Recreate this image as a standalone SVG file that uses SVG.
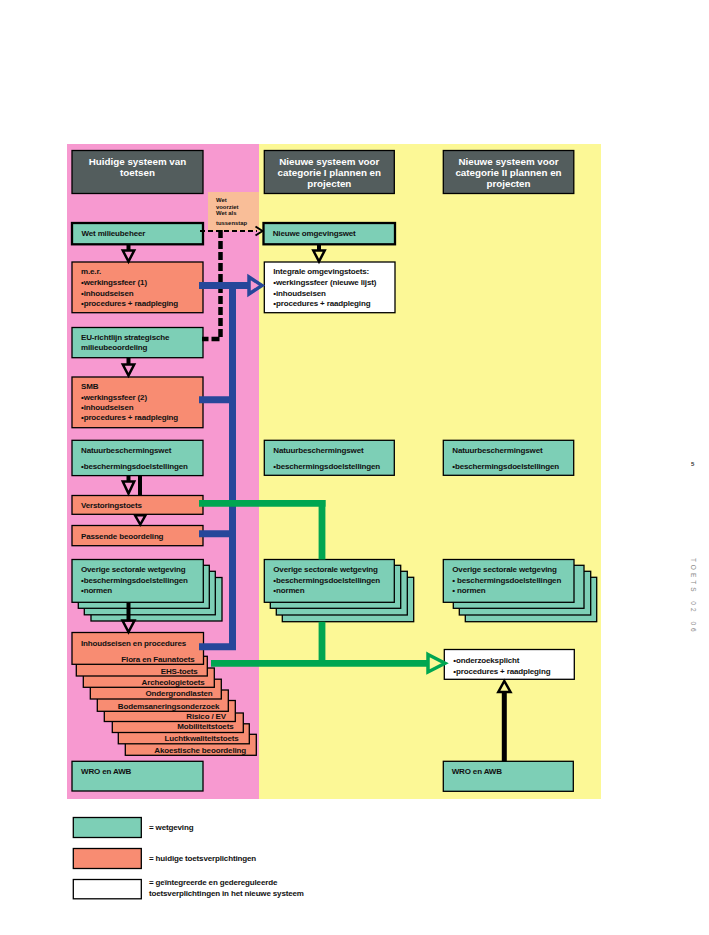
<svg xmlns="http://www.w3.org/2000/svg" width="709" height="935" viewBox="0 0 709 935">
<style>
.t{font-family:"Liberation Sans",Arial,sans-serif;font-size:8px;font-weight:bold;letter-spacing:-0.15px;fill:#111}
.r{text-anchor:end}
.h{font-family:"Liberation Sans",Arial,sans-serif;font-size:9.8px;font-weight:bold;fill:#fff;text-anchor:middle}
.s{font-family:"Liberation Sans",Arial,sans-serif;font-size:5.9px;font-weight:bold;fill:#111}
.teal{fill:#7DCFB6;stroke:#000;stroke-width:1.3}
.sal{fill:#F88C72;stroke:#000;stroke-width:1.3}
.wht{fill:#fff;stroke:#000;stroke-width:1.3}
.hdr{fill:#535D5D;stroke:#000;stroke-width:1.3}
.thk{stroke-width:2.3}
.ln{fill:none;stroke:#000;stroke-width:4}
.tri{fill:none;stroke:#000;stroke-width:2.5;stroke-linejoin:miter}
</style>
<rect width="709" height="935" fill="#fff"/>
<g id="panels">
<rect x="67" y="144" width="192" height="655" fill="#F799D0"/>
<rect x="259" y="144" width="342" height="655" fill="#FCF896"/>
<rect x="208" y="192" width="51" height="39" fill="#F9BE98"/>
</g>
<g id="peach-note">
<text class="s" x="216" y="202">Wet</text>
<text class="s" x="216" y="208.5">voorziet</text>
<text class="s" x="216" y="215">Wet als</text>
<text class="s" x="216" y="224.5">tussenstap</text>
</g>
<g id="hdr1"><rect class="hdr" x="72" y="150.5" width="131" height="43"/>
<text class="h" x="137.5" y="165.3">Huidige systeem van</text><text class="h" x="137.5" y="176.2">toetsen</text></g>
<g id="hdr2"><rect class="hdr" x="264.3" y="150.5" width="130" height="43"/>
<text class="h" x="329.3" y="165.3">Nieuwe systeem voor</text><text class="h" x="329.3" y="176.3">categorie I plannen en</text><text class="h" x="329.3" y="187.3">projecten</text></g>
<g id="hdr3"><rect class="hdr" x="443.3" y="150.5" width="130.5" height="43"/>
<text class="h" x="508.5" y="165.3">Nieuwe systeem voor</text><text class="h" x="508.5" y="176.3">categorie II plannen en</text><text class="h" x="508.5" y="187.3">projecten</text></g>

<g id="wm"><rect class="teal thk" x="72" y="223" width="131" height="21.3"/><text class="t" x="81.5" y="236.3">Wet milieubeheer</text></g>
<g id="now"><rect class="teal thk" x="263.5" y="223" width="131.5" height="21.3"/><text class="t" x="272.7" y="236.3">Nieuwe omgevingswet</text></g>

<g id="mer"><rect class="sal" x="72" y="262" width="131" height="50.7"/>
<text class="t" x="81" y="273.5">m.e.r.</text><text class="t" x="81" y="285.3">•werkingssfeer (1)</text><text class="t" x="81" y="296">•inhoudseisen</text><text class="t" x="81" y="306.2">•procedures + raadpleging</text></g>
<g id="integraal"><rect class="wht" x="264.3" y="262" width="130.7" height="50.7"/>
<text class="t" x="273.3" y="274">Integrale omgevingstoets:</text><text class="t" x="273.3" y="285.3">•werkingssfeer (nieuwe lijst)</text><text class="t" x="273.3" y="296">•inhoudseisen</text><text class="t" x="273.3" y="306.2">•procedures + raadpleging</text></g>

<g id="eu"><rect class="teal" x="72" y="327.5" width="131" height="30.2"/>
<text class="t" x="81" y="340.3">EU-richtlijn strategische</text><text class="t" x="81" y="350.3">milieubeoordeling</text></g>
<g id="smb"><rect class="sal" x="72" y="377" width="131" height="50.7"/>
<text class="t" x="81" y="388.7">SMB</text><text class="t" x="81" y="399.5">•werkingssfeer (2)</text><text class="t" x="81" y="410">•inhoudseisen</text><text class="t" x="81" y="420.2">•procedures + raadpleging</text></g>

<g id="nbw1"><rect class="teal" x="72" y="440.3" width="131" height="35.3"/>
<text class="t" x="81" y="453">Natuurbeschermingswet</text><text class="t" x="81" y="469.3">•beschermingsdoelstellingen</text></g>
<g id="nbw2"><rect class="teal" x="264.3" y="440.3" width="130" height="35"/>
<text class="t" x="273.3" y="453">Natuurbeschermingswet</text><text class="t" x="273.3" y="469">•beschermingsdoelstellingen</text></g>
<g id="nbw3"><rect class="teal" x="443.3" y="440.3" width="130.4" height="35"/>
<text class="t" x="452.3" y="453">Natuurbeschermingswet</text><text class="t" x="452.3" y="469">•beschermingsdoelstellingen</text></g>

<g id="verstoring"><rect class="sal" x="72" y="495.5" width="131" height="18.8"/><text class="t" x="81" y="508">Verstoringstoets</text></g>
<g id="passende"><rect class="sal" x="72" y="525.5" width="131" height="20.2"/><text class="t" x="81" y="538.5">Passende beoordeling</text></g>

<g id="overige1">
<rect class="teal" x="91" y="577.5" width="131" height="43.5"/>
<rect class="teal" x="84.3" y="571.3" width="131" height="43.5"/>
<rect class="teal" x="78.3" y="565.3" width="131" height="43"/>
<rect class="teal" x="72" y="559.5" width="131.3" height="42.8"/>
<text class="t" x="81" y="572">Overige sectorale wetgeving</text><text class="t" x="81" y="582.8">•beschermingsdoelstellingen</text><text class="t" x="81" y="593.3">•normen</text></g>
<g id="overige2">
<rect class="teal" x="282.3" y="577.3" width="131.4" height="44.4"/>
<rect class="teal" x="276.3" y="571.3" width="131" height="43.7"/>
<rect class="teal" x="270.3" y="565.3" width="130.4" height="43"/>
<rect class="teal" x="264.3" y="559.5" width="130" height="42.8"/>
<text class="t" x="273.3" y="572">Overige sectorale wetgeving</text><text class="t" x="273.3" y="582.8">•beschermingsdoelstellingen</text><text class="t" x="273.3" y="593.3">•normen</text></g>
<g id="overige3">
<rect class="teal" x="465.3" y="577.3" width="131.4" height="44.4"/>
<rect class="teal" x="459.3" y="571.3" width="131.4" height="43.7"/>
<rect class="teal" x="453.3" y="565.3" width="130.7" height="43"/>
<rect class="teal" x="443.3" y="559.5" width="130.7" height="42.8"/>
<text class="t" x="452.3" y="572">Overige sectorale wetgeving</text><text class="t" x="452.3" y="582.8">• beschermingsdoelstellingen</text><text class="t" x="452.3" y="593.3">• normen</text></g>

<g id="toetsen">
<rect class="sal" x="125.3" y="734.3" width="131" height="21"/><text class="t r" x="246" y="752.5">Akoestische beoordeling</text>
<rect class="sal" x="118.3" y="723.8" width="131" height="20"/><text class="t r" x="238.5" y="741">Luchtkwaliteitstoets</text>
<rect class="sal" x="112.3" y="713" width="131" height="19.5"/><text class="t r" x="233.5" y="729.3">Mobiliteitstoets</text>
<rect class="sal" x="104.3" y="700.5" width="131" height="21"/><text class="t r" x="226" y="718.6">Risico / EV</text>
<rect class="sal" x="97.3" y="690" width="131" height="21.3"/><text class="t r" x="219.3" y="708.5">Bodemsaneringsonderzoek</text>
<rect class="sal" x="90.3" y="679.2" width="131" height="19.8"/><text class="t r" x="212.5" y="696.2">Ondergrondlasten</text>
<rect class="sal" x="83.3" y="668" width="131" height="19.3"/><text class="t r" x="204.5" y="684.8">Archeologietoets</text>
<rect class="sal" x="76.3" y="656.3" width="131" height="19.7"/><text class="t r" x="197.7" y="673.5">EHS-toets</text>
<rect class="sal" x="72" y="632.5" width="131.5" height="31.8"/>
<text class="t" x="81" y="646.3">Inhoudseisen en procedures</text><text class="t r" x="194.5" y="662">Flora en Faunatoets</text>
</g>

<g id="onderzoek"><rect class="wht" x="444.3" y="649.5" width="130" height="29.8"/>
<text class="t" x="453.3" y="662.5">•onderzoeksplicht</text><text class="t" x="453.3" y="673.5">•procedures + raadpleging</text></g>

<g id="wro1"><rect class="teal" x="72" y="761.3" width="131" height="29.7"/><text class="t" x="81" y="773.7">WRO en AWB</text></g>
<g id="wro2"><rect class="teal" x="443.3" y="761.3" width="130" height="30"/><text class="t" x="451.7" y="774">WRO en AWB</text></g>

<g id="connectors">
<path d="M200 231 H257" fill="none" stroke="#000" stroke-width="2" stroke-dasharray="5 3"/>
<path d="M255.5 226.5 L262.5 231 L255.5 235.5" fill="none" stroke="#000" stroke-width="2"/>
<path d="M220.5 230 V339 H202" fill="none" stroke="#000" stroke-width="4.5" stroke-dasharray="8 3"/>
<path class="ln" d="M128.5 244.3 V250.5"/><path class="tri" d="M122.8 250.5 H134.2 L128.5 261.5 Z"/>
<path class="ln" d="M319 244.3 V250.5"/><path class="tri" d="M313.3 250.5 H324.7 L319 261.5 Z"/>
<path class="ln" d="M128.5 357.7 V364.5"/><path class="tri" d="M122.8 364.5 H134.2 L128.5 375.5 Z"/>
<path class="ln" d="M128.5 475.7 V481.5"/><path class="tri" d="M122.8 481.5 H134.2 L128.5 493.5 Z"/>
<path class="ln" d="M140 475.7 V495.5"/><path class="tri" d="M135 515.3 H145.5 L140.3 524.5 Z"/>
<path class="ln" d="M128.5 602.3 V620.5"/><path class="tri" d="M122.5 620.5 H134.5 L128.5 632 Z"/>
<path d="M504.3 761.3 V692" fill="none" stroke="#000" stroke-width="5"/><path class="tri" d="M498.3 692 H510.5 L504.3 681 Z"/>
<path d="M199 285.5 H248.5 M232.5 282 V650 M199 399.7 H232.5 M199 533.7 H232.5 M199 646.7 H236" fill="none" stroke="#27479A" stroke-width="7"/>
<path d="M249 277 L262 285.5 L249 294 Z" fill="none" stroke="#27479A" stroke-width="3.5"/>
<path d="M199 503.3 H325.7 M322 500 V559.5 M322 621.7 V666.7 M211 663.3 H428" fill="none" stroke="#00A651" stroke-width="6.8"/>
<path d="M428 654.5 L445 663.3 L428 672 Z" fill="none" stroke="#00A651" stroke-width="3.5"/>
</g>

<g id="legend">
<rect class="teal" x="73.3" y="817.5" width="68" height="20"/><text class="t" x="149" y="830.3">= wetgeving</text>
<rect class="sal" x="73.3" y="848.5" width="68" height="20"/><text class="t" x="149" y="861.3">= huidige toetsverplichtingen</text>
<rect class="wht" x="73.3" y="879.5" width="68" height="19.3"/><text class="t" x="149" y="884.8">= geïntegreerde en gedereguleerde</text><text class="t" x="149" y="896.3">toetsverplichtingen in het nieuwe systeem</text>
</g>
<g id="page">
<text x="692.7" y="465.5" font-family="Liberation Sans,Arial,sans-serif" font-size="6" font-weight="bold" fill="#333" text-anchor="middle">5</text>
<text transform="translate(690.5,558) rotate(90)" font-family="Liberation Sans,Arial,sans-serif" font-size="6.5" fill="#888" letter-spacing="3" word-spacing="2">TOETS 02 06</text>
</g>
</svg>
